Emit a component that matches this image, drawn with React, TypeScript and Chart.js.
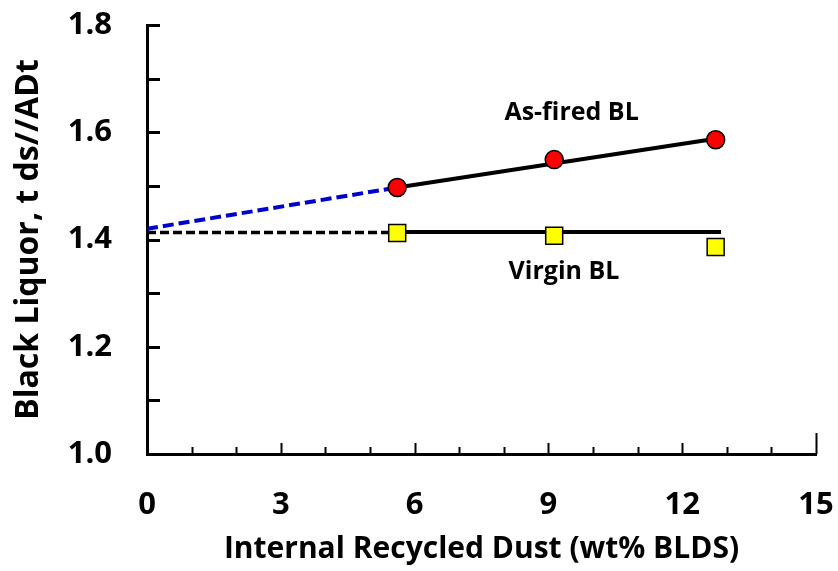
import React, { useEffect, useRef } from "react";
import { Chart, registerables } from "chart.js";

Chart.register(...registerables);

// ---- data ----
const xPoints = [5.61, 9.13, 12.75];
const asFiredValues = [1.497, 1.549, 1.586];
const virginValues = [1.412, 1.407, 1.386];

const asFiredTrendX = [5.61, 12.75];
const asFiredTrendY = [1.497, 1.588];
const asFiredExtrapX = [0, 5.61];
const asFiredExtrapY = [1.42, 1.497];

const virginTrendX = [5.61, 12.87];
const virginTrendY = [1.414, 1.414];
const virginExtrapX = [0, 5.61];
const virginExtrapY = [1.413, 1.413];

const xTicks = [0, 3, 6, 9, 12, 15];
const yTicks = [1.0, 1.2, 1.4, 1.6, 1.8];

const labelTexts = ["As-fired BL", "Virgin BL"];
const labelX = [9.52, 9.35];
const labelY = [1.636, 1.339];

const FONT = "'Open Sans', 'DejaVu Sans', sans-serif";

const toXY = (xs: number[], ys: number[]) => xs.map((x, i) => ({ x, y: ys[i] }));

const innerTicks = {
  id: "innerTicks",
  afterDraw(chart: any) {
    const { ctx, chartArea, scales } = chart;
    const xs = scales.x;
    const ys = scales.y;
    ctx.save();
    ctx.strokeStyle = "#000";
    ctx.lineWidth = 3;
    ctx.lineCap = "butt";
    for (let i = 0; i <= 8; i++) {
      const v = 1.0 + i * 0.1;
      const py = Math.round(ys.getPixelForValue(v)) + 0.5;
      ctx.beginPath();
      ctx.moveTo(chartArea.left, py);
      ctx.lineTo(chartArea.left + 13, py);
      ctx.stroke();
    }
    ctx.lineWidth = 2;
    for (let v = 1; v <= 15; v++) {
      const px = Math.round(xs.getPixelForValue(v)) + 0.5;
      const len = v === 15 ? 21 : v % 3 === 0 ? 11 : 7;
      ctx.beginPath();
      ctx.moveTo(px, chartArea.bottom);
      ctx.lineTo(px, chartArea.bottom - len);
      ctx.stroke();
    }
    ctx.restore();
  },
};

const textLabels = {
  id: "textLabels",
  afterDatasetsDraw(chart: any) {
    const { ctx, scales } = chart;
    ctx.save();
    ctx.fillStyle = "#000";
    ctx.font = `bold 25px ${FONT}`;
    ctx.textAlign = "center";
    ctx.textBaseline = "middle";
    labelTexts.forEach((t, i) => {
      ctx.fillText(t, scales.x.getPixelForValue(labelX[i]), scales.y.getPixelForValue(labelY[i]));
    });
    ctx.restore();
  },
};

export default function App() {
  const ref = useRef<HTMLCanvasElement | null>(null);

  useEffect(() => {
    if (!ref.current) return;
    const chart = new Chart(ref.current, {
      type: "scatter",
      data: {
        datasets: [
          {
            label: "As-fired BL",
            data: toXY(xPoints, asFiredValues),
            showLine: false,
            pointStyle: "circle",
            pointRadius: 9,
            pointBackgroundColor: "#ff0000",
            pointBorderColor: "#000",
            pointBorderWidth: 1.5,
          },
          {
            label: "Virgin BL",
            data: toXY(xPoints, virginValues),
            showLine: false,
            pointStyle: "rect",
            pointRadius: 12,
            pointBackgroundColor: "#ffff00",
            pointBorderColor: "#000",
            pointBorderWidth: 1.5,
          },
          {
            label: "As-fired trend",
            data: toXY(asFiredTrendX, asFiredTrendY),
            showLine: true,
            borderColor: "#000",
            borderWidth: 4,
            pointRadius: 0,
          },
          {
            label: "Virgin trend",
            data: toXY(virginTrendX, virginTrendY),
            showLine: true,
            borderColor: "#000",
            borderWidth: 4,
            pointRadius: 0,
          },
          {
            label: "As-fired extrapolation",
            data: toXY(asFiredExtrapX, asFiredExtrapY),
            showLine: true,
            borderColor: "#0000cc",
            borderWidth: 4,
            borderDash: [11, 5],
            pointRadius: 0,
          },
          {
            label: "Virgin extrapolation",
            data: toXY(virginExtrapX, virginExtrapY),
            showLine: true,
            borderColor: "#000",
            borderWidth: 3.5,
            borderDash: [9, 4],
            pointRadius: 0,
          },
        ],
      },
      options: {
        responsive: false,
        animation: false,
        devicePixelRatio: 1,
        layout: { padding: { top: 25, right: 22, left: 0, bottom: 0 } },
        plugins: {
          legend: { display: false },
          tooltip: { enabled: false },
        },
        scales: {
          x: {
            type: "linear",
            min: 0,
            max: 15,
            afterFit: (s: any) => {
              s.height = 117;
              s.paddingLeft = 0;
              s.paddingRight = 0;
            },
            afterBuildTicks: (s: any) => {
              s.ticks = xTicks.map((v) => ({ value: v }));
            },
            ticks: {
              color: "#000",
              font: { family: FONT, size: 31, weight: "bold" },
              padding: 33,
              maxRotation: 0,
            },
            grid: { display: false, drawTicks: false },
            border: { display: true, color: "#000", width: 3 },
            title: {
              display: true,
              text: "Internal Recycled Dust (wt% BLDS)",
              color: "#000",
              font: { family: FONT, size: 30, weight: "bold" },
              padding: { top: 0, bottom: 4 },
            },
          },
          y: {
            type: "linear",
            min: 1.0,
            max: 1.8,
            afterFit: (s: any) => {
              s.width = 147;
              s.paddingTop = 0;
              s.paddingBottom = 0;
            },
            afterBuildTicks: (s: any) => {
              s.ticks = yTicks.map((v) => ({ value: v }));
            },
            ticks: {
              color: "#000",
              font: { family: FONT, size: 31, weight: "bold" },
              padding: 35,
              callback: (v: any) => Number(v).toFixed(1),
            },
            grid: { display: false, drawTicks: false },
            border: { display: true, color: "#000", width: 3 },
            title: {
              display: true,
              text: "Black Liquor, t ds//ADt",
              color: "#000",
              font: { family: FONT, size: 32, weight: "bold" },
              padding: { top: 10, bottom: 0 },
            },
          },
        },
      },
      plugins: [innerTicks, textLabels],
    });
    return () => chart.destroy();
  }, []);

  return (
    <div style={{ position: "absolute", left: 0, top: 0, width: 838, height: 571, background: "#fff" }}>
      <canvas ref={ref} width={838} height={571} style={{ width: 838, height: 571, display: "block" }} />
    </div>
  );
}
